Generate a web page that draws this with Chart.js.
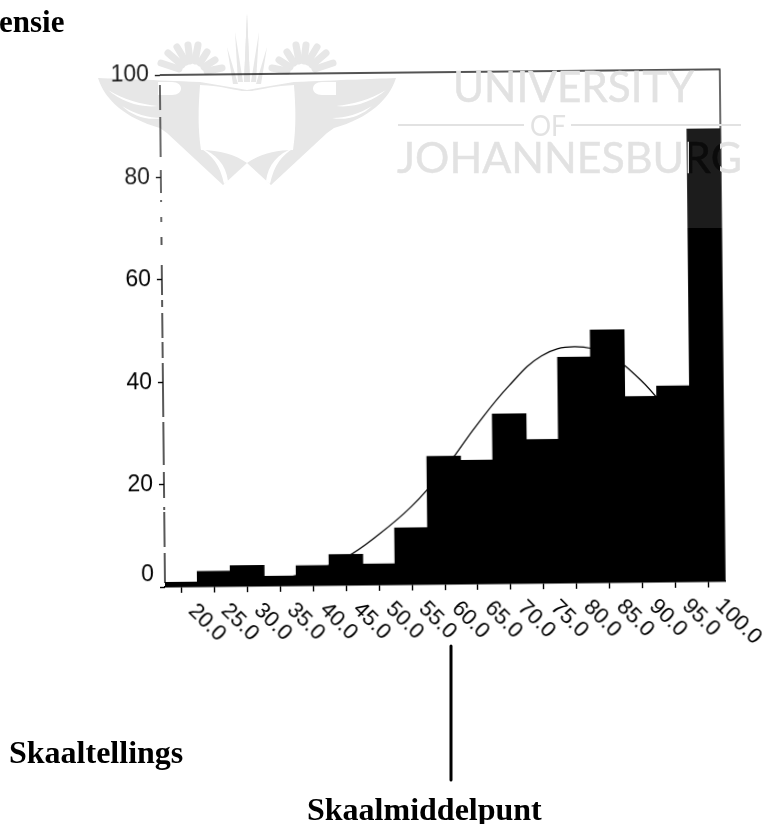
<!DOCTYPE html>
<html>
<head>
<meta charset="utf-8">
<script src="https://cdn.jsdelivr.net/npm/chart.js@4/dist/chart.umd.min.js"></script>
<style>
    html, body { margin: 0; padding: 0; background: #fff; }
    body { position: relative; width: 768px; height: 824px; overflow: hidden; }
    svg, canvas { position: absolute; left: 0; top: 0; }
    canvas { transform-origin: 165px 587px; transform: rotate(-0.58deg); } /* the scan sits slightly crooked */
    .label { position: absolute; font: bold 32px "Liberation Serif", serif; color: #000; white-space: nowrap; }
</style>
</head>
<body>

<!-- watermark crest sits under the chart -->
<svg id="crest" width="768" height="824">
    <defs>
        <g id="halfCrest" fill="#e4e4e4" stroke="none">
            <path d="M98,78 C125,79 150,80 200,82 L247,90 L247,163 L223,185 L167,133 L160,128 C125,118 105,100 98,78 Z"/>
            <g stroke="#e4e4e4" stroke-width="7" stroke-linecap="round">
                <line x1="179" y1="69" x2="161" y2="63"/>
                <line x1="182" y1="65" x2="168" y2="53"/>
                <line x1="186" y1="62" x2="177" y2="47"/>
                <line x1="190" y1="61" x2="188" y2="45"/>
                <line x1="195" y1="61" x2="198" y2="45"/>
                <line x1="200" y1="63" x2="207" y2="52"/>
                <line x1="204" y1="67" x2="215" y2="60"/>
                <line x1="207" y1="71" x2="222" y2="68"/>
            </g>
            <path d="M247,13 L250,82 L244,82 Z"/>
            <path d="M235,32 L243,82 L238,82 Z"/>
            <path d="M227,47 L238,84 L233,84 Z"/>
            <g fill="#fff">
                <path d="M158,82 L172,82 C184,82 184,95 172,95 L158,95 Z"/>
                <path d="M200,85 C225,86 240,92 247,91 L247,163 C236,155 219,150 201,150 C198,130 198,110 200,85 Z"/>
                <path d="M108,90 C125,100 140,104 158,106 C140,108 122,102 108,90 Z"/>
                <path d="M122,106 C135,114 148,118 162,118 C148,121 132,116 122,106 Z"/>
                <path d="M224,184 C220,165 212,155 200,148 C216,153 226,165 228,181 Z"/>
            </g>
        </g>
    </defs>
    <use href="#halfCrest"/>
    <use href="#halfCrest" transform="translate(494,0) scale(-1,1)"/>
</svg>

<canvas id="myChart" width="768" height="824"></canvas>

<!-- watermark wash and lettering sit over the chart -->
<svg id="wash" width="768" height="824">
    <defs>
        <linearGradient id="overBar" gradientUnits="userSpaceOnUse" x1="397" y1="0" x2="742" y2="0">
            <stop offset="0.846" stop-color="#e2e2e2"/>
            <stop offset="0.846" stop-color="#0b0b0b"/>
            <stop offset="0.936" stop-color="#0b0b0b"/>
            <stop offset="0.936" stop-color="#e2e2e2"/>
        </linearGradient>
    </defs>
    <rect x="0" y="0" width="768" height="228" fill="#fff" fill-opacity="0.11"/>
    <text x="453" y="102" font-family="Lato" font-size="42" fill="#e2e2e2" stroke="#e2e2e2" stroke-width="0.5" textLength="241" lengthAdjust="spacingAndGlyphs">UNIVERSITY</text>
    <rect x="398" y="124" width="126" height="2" fill="#e2e2e2"/>
    <text x="530" y="136" font-family="Lato" font-size="28" fill="#e2e2e2" textLength="36" lengthAdjust="spacingAndGlyphs">OF</text>
    <rect x="571" y="124" width="170" height="2" fill="#e2e2e2"/>
    <text x="397" y="173" font-family="Lato" font-size="42" fill="url(#overBar)" stroke="url(#overBar)" stroke-width="0.5" textLength="345" lengthAdjust="spacingAndGlyphs">JOHANNESBURG</text>
    <line x1="451" y1="646" x2="451" y2="780" stroke="#000" stroke-width="3" stroke-linecap="round"/>
</svg>

<div class="label" style="left:-1px; top:4px; font-size:31px;">ensie</div>
<div class="label" style="left:9px; top:734px;">Skaaltellings</div>
<div class="label" style="left:307px; top:791px;">Skaalmiddelpunt</div>

<script>
    const categories = ['20.0', '25.0', '30.0', '35.0', '40.0', '45.0', '50.0', '55.0', '60.0',
        '65.0', '70.0', '75.0', '80.0', '85.0', '90.0', '95.0', '100.0'];
    const frequencies = [0.8, 2.9, 3.9, 1.8, 3.8, 5.9, 4, 11, 24.9, 24, 33, 28, 44, 49.2, 36.2, 38.2, 88.3];
    const normalCurve = [0.1, 0.3, 0.6, 1.4, 2.8, 5.4, 9.8, 15.2, 22.3, 30.9, 38.6, 44.4, 46.1, 44.5, 39.5, 32, 25];
    const yTicks = [0, 20, 40, 60, 80, 100];

    const tickFont = { family: '"Liberation Sans", Arial, sans-serif', size: 23, lineHeight: 1.05 };
    const yAxisDash = [0, 10, 25, 7, 40, 13, 23, 7, 2, 15, 5, 15, 8, 20, 30, 5, 7, 6, 25, 4, 16, 5, 54, 5, 43, 7, 26, 9, 3, 2, 35, 6, 30, 4];

    // Chart.js forces right alignment on rotated x labels, so these go on by hand
    const slantedLabels = {
        id: 'slantedLabels',
        afterDraw(chart) {
            const { ctx, scales: { x }, chartArea } = chart;
            ctx.save();
            ctx.fillStyle = '#000';
            ctx.font = `22px ${tickFont.family}`;
            ctx.textAlign = 'left';
            ctx.textBaseline = 'middle';
            categories.forEach((label, i) => {
                ctx.save();
                ctx.translate(x.getPixelForTick(i) + 10, chartArea.bottom + 21);
                ctx.rotate(Math.PI / 4);
                ctx.fillText(label, 0, 0);
                ctx.restore();
            });
            ctx.restore();
        }
    };

    // top and right sides of the frame, plus the broken y axis line
    const frame = {
        id: 'frame',
        beforeDatasetsDraw(chart) {
            const { ctx, chartArea: { left, top, right, bottom } } = chart;
            ctx.save();
            ctx.strokeStyle = '#000';
            ctx.lineWidth = 1.3;
            ctx.beginPath();
            ctx.moveTo(left, top);
            ctx.lineTo(right, top);
            ctx.lineTo(right, bottom);
            ctx.stroke();
            ctx.setLineDash(yAxisDash);
            ctx.beginPath();
            ctx.moveTo(left, top);
            ctx.lineTo(left, bottom);
            ctx.stroke();
            ctx.restore();
        }
    };

    new Chart(document.getElementById('myChart'), {
        type: 'bar',
        data: {
            labels: categories,
            datasets: [
                {
                    type: 'bar',
                    label: 'Frekwensie',
                    data: frequencies,
                    backgroundColor: '#000',
                    borderColor: '#000',
                    borderWidth: 1, // closes the hairline seams the slight rotation opens up
                    inflateAmount: 1,
                    barPercentage: 1,
                    categoryPercentage: 1,
                    order: 1
                },
                {
                    type: 'line',
                    label: 'Normaal',
                    data: normalCurve,
                    borderColor: '#000',
                    borderWidth: 1.2,
                    pointRadius: 0,
                    tension: 0.4,
                    fill: false,
                    order: 2
                }
            ]
        },
        options: {
            responsive: false,
            animation: false,
            layout: { autoPadding: false, padding: { left: 0, top: 75, right: 43, bottom: 0 } },
            plugins: { legend: { display: false }, tooltip: { enabled: false } },
            scales: {
                x: {
                    offset: true,
                    afterFit: (scale) => { scale.height = 237; },
                    grid: { offset: false, drawOnChartArea: false, tickLength: 6, tickColor: '#000', tickWidth: 1.4 },
                    border: { color: '#000', width: 1.4 },
                    ticks: { display: false, autoSkip: false }
                },
                y: {
                    min: 0,
                    max: 100,
                    afterFit: (scale) => { scale.width = 165; },
                    afterBuildTicks: (scale) => { scale.ticks = yTicks.map((value) => ({ value })); },
                    grid: { drawOnChartArea: false, tickLength: 5, tickColor: '#000', tickWidth: 1.4 },
                    border: { display: false },
                    ticks: {
                        color: '#000',
                        font: tickFont,
                        padding: 6,
                        // the 0 label sits a line higher than its tick
                        callback: (value) => (value === 0 ? ['0', ''] : String(value))
                    }
                }
            }
        },
        plugins: [frame, slantedLabels]
    });
</script>
</body>
</html>
